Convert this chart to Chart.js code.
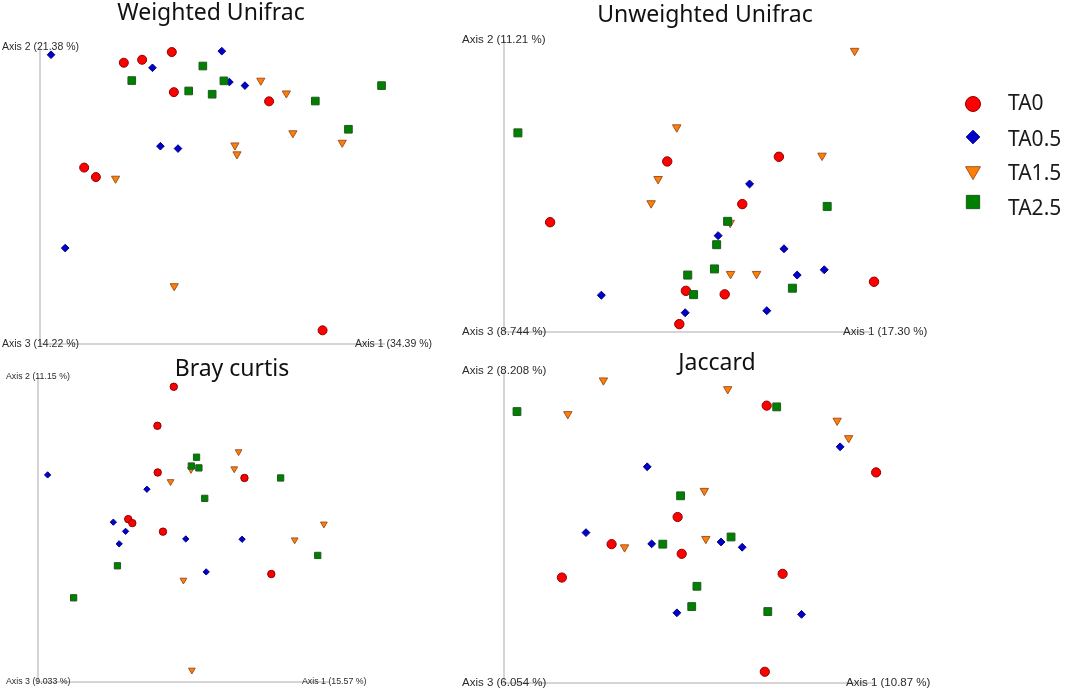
<!DOCTYPE html>
<html lang="en">
<head>
<meta charset="UTF-8">
<title>PCoA</title>
<script src="https://cdn.jsdelivr.net/npm/chart.js"></script>
<style>
    html, body { margin: 0; padding: 0; background: #fff; }
    body { width: 1065px; height: 690px; position: relative; overflow: hidden; }
    canvas { position: absolute; }
</style>
</head>
<body>
<canvas id="c1" width="455" height="360" style="left:0;top:0"></canvas>
<canvas id="c2" width="610" height="345" style="left:455px;top:0"></canvas>
<canvas id="c3" width="455" height="350" style="left:0;top:340px"></canvas>
<canvas id="c4" width="610" height="350" style="left:455px;top:340px"></canvas>
<script>
    // Groupes et textes
    const groups = ['TA0', 'TA0.5', 'TA1.5', 'TA2.5'];
    const panelTitles = ['Weighted Unifrac', 'Unweighted Unifrac', 'Bray curtis', 'Jaccard'];
    const axis1Labels = ['Axis 1 (34.39 %)', 'Axis 1 (17.30 %)', 'Axis 1 (15.57 %)', 'Axis 1 (10.87 %)'];
    const axis2Labels = ['Axis 2 (21.38 %)', 'Axis 2 (11.21 %)', 'Axis 2 (11.15 %)', 'Axis 2 (8.208 %)'];
    const axis3Labels = ['Axis 3 (14.22 %)', 'Axis 3 (8.744 %)', 'Axis 3 (9.033 %)', 'Axis 3 (6.054 %)'];

    // Scores (axe 1, axe 2), echelle 0-100 par panneau
    const weightedTA0 = [[38.2, 98.3], [24.3, 94.7], [29.6, 95.7], [38.8, 84.8], [66.4, 81.7], [12.8, 59.4], [16.2, 56.2], [81.9, 4.6]];
    const weightedTA05 = [[3.2, 97.4], [52.7, 98.6], [32.6, 93.0], [54.9, 88.2], [59.4, 87.0], [34.9, 66.6], [40.0, 65.8], [7.3, 32.3]];
    const weightedTA15 = [[64.0, 88.7], [71.4, 84.4], [73.3, 71.0], [56.5, 66.9], [57.1, 63.9], [87.6, 67.8], [21.9, 55.7], [38.9, 19.5]];
    const weightedTA25 = [[47.2, 93.6], [26.6, 88.7], [53.3, 88.6], [43.1, 85.2], [49.9, 84.1], [79.8, 81.8], [99.0, 87.0], [89.4, 72.3]];

    const unweightedTA0 = [[44.6, 58.4], [75.1, 60.0], [65.1, 43.8], [12.6, 37.6], [49.7, 14.1], [60.3, 12.9], [47.9, 2.7], [101.1, 17.2]];
    const unweightedTA05 = [[67.1, 50.7], [58.5, 33.0], [76.5, 28.5], [80.1, 19.5], [87.5, 21.3], [26.6, 12.6], [49.5, 6.6], [71.8, 7.3]];
    const unweightedTA15 = [[95.8, 96.3], [47.2, 70.1], [86.9, 60.4], [42.1, 52.4], [40.2, 44.1], [61.8, 37.4], [61.9, 19.9], [69.0, 19.9]];
    const unweightedTA25 = [[3.8, 68.2], [88.3, 43.0], [61.1, 37.9], [58.1, 29.9], [57.5, 21.6], [50.2, 19.5], [51.8, 12.8], [78.8, 15.0]];

    const brayTA0 = [[46.5, 96.8], [40.9, 84.0], [41.0, 68.7], [70.7, 66.9], [30.9, 53.4], [32.3, 52.1], [42.8, 49.3], [79.9, 35.4]];
    const brayTA05 = [[3.3, 67.9], [37.3, 63.2], [25.8, 52.4], [30.0, 49.4], [27.8, 45.3], [50.6, 46.9], [69.9, 46.8], [57.6, 36.1]];
    const brayTA15 = [[68.7, 75.5], [67.2, 69.9], [52.4, 69.7], [45.4, 65.7], [97.9, 51.8], [87.9, 46.6], [49.8, 33.4], [52.7, 3.9]];
    const brayTA25 = [[54.3, 73.7], [52.5, 70.8], [55.1, 70.2], [83.1, 66.9], [57.1, 60.2], [95.8, 41.5], [27.2, 38.1], [12.2, 27.6]];

    const jaccardTA0 = [[70.8, 88.9], [100.3, 67.5], [46.8, 53.2], [29.0, 44.5], [47.9, 41.4], [15.6, 33.8], [75.1, 35.0], [70.3, 3.6]];
    const jaccardTA05 = [[90.6, 75.7], [38.6, 69.3], [22.1, 48.2], [39.8, 44.6], [58.5, 45.2], [64.2, 43.5], [46.6, 22.5], [80.2, 22.0]];
    const jaccardTA15 = [[26.8, 97.0], [60.3, 94.2], [17.2, 86.2], [89.8, 84.1], [92.9, 78.5], [54.0, 61.6], [54.4, 46.2], [32.5, 43.5]];
    const jaccardTA25 = [[3.5, 87.0], [73.5, 88.5], [47.6, 60.0], [61.2, 46.8], [42.8, 44.5], [52.0, 31.0], [50.6, 24.5], [71.1, 22.9]];

    const panelData = [
        [weightedTA0, weightedTA05, weightedTA15, weightedTA25],
        [unweightedTA0, unweightedTA05, unweightedTA15, unweightedTA25],
        [brayTA0, brayTA05, brayTA15, brayTA25],
        [jaccardTA0, jaccardTA05, jaccardTA15, jaccardTA25]
    ];

    // Styles des marqueurs par groupe
    const markers = [
        { shape: 'circle', rotation: 0, k: 1.0, fill: '#ff0000', stroke: '#8b0000' },
        { shape: 'rectRot', rotation: 0, k: 0.85, fill: '#0000c8', stroke: '#00008b' },
        { shape: 'triangle', rotation: 180, k: 1.05, fill: '#ff8000', stroke: '#a0522d' },
        { shape: 'rect', rotation: 0, k: 1.2, fill: '#008000', stroke: '#1e5a1e' }
    ];

    // Mise en page de chaque panneau (pixels du canvas)
    const layouts = [
        { id: 'c1', pad: { left: 40, top: 47, right: 70, bottom: 16 }, r: 4.5, titleX: 211, titleY: 20, labelSize: 10.5, labelLeft: 38, axis1Off: 30 },
        { id: 'c2', pad: { left: 49, top: 40, right: 195, bottom: 13 }, r: 4.7, titleX: 250, titleY: 22, labelSize: 11.5, labelLeft: 42, axis1Off: 27, legend: true },
        { id: 'c3', pad: { left: 38, top: 37, right: 125, bottom: 8 }, r: 3.7, titleX: 232, titleY: 36, labelSize: 8.8, labelLeft: 32, axis1Off: 28 },
        { id: 'c4', pad: { left: 49, top: 31, right: 190, bottom: 7 }, r: 4.6, titleX: 262, titleY: 30, labelSize: 11.5, labelLeft: 42, axis1Off: 29 }
    ];

    // Dessine un marqueur (legende)
    let dessineMarqueur = (ctx, m, radius, x, y) => {
        ctx.fillStyle = m.fill;
        ctx.strokeStyle = m.stroke;
        ctx.lineWidth = 1;
        Chart.helpers.drawPoint(ctx, { pointStyle: m.shape, rotation: m.rotation, radius: radius, borderWidth: 1 }, x, y);
    };

    // Plugin : axes en L, libelles, titre et legende
    const pcoaFrame = {
        id: 'pcoaFrame',
        beforeDatasetsDraw(chart, args, opts) {
            const ctx = chart.ctx;
            const a = chart.chartArea;
            ctx.save();
            ctx.strokeStyle = '#c8c8c8';
            ctx.lineWidth = 1.5;
            ctx.beginPath();
            ctx.moveTo(a.left, a.top);
            ctx.lineTo(a.left, a.bottom);
            ctx.lineTo(a.right, a.bottom);
            ctx.stroke();

            ctx.fillStyle = '#2b2b2b';
            ctx.font = opts.labelSize + 'px "Liberation Sans", Arial, sans-serif';
            ctx.textAlign = 'left';
            ctx.textBaseline = 'middle';
            ctx.fillText(opts.axis2, a.left - opts.labelLeft, a.top);
            ctx.fillText(opts.axis3, a.left - opts.labelLeft, a.bottom);
            ctx.fillText(opts.axis1, a.right - opts.axis1Off, a.bottom);

            ctx.fillStyle = '#111';
            ctx.font = '23px "Noto Sans", sans-serif';
            ctx.textAlign = 'center';
            ctx.textBaseline = 'alphabetic';
            ctx.fillText(opts.title, opts.titleX, opts.titleY);

            if (opts.legend) {
                const symY = [104, 137, 171, 202];
                const txtY = [104, 140, 174, 209];
                const sizes = [7.5, 6.8, 8.6, 9.4];
                ctx.font = '21px "Noto Sans", sans-serif';
                ctx.textAlign = 'left';
                ctx.textBaseline = 'middle';
                groups.forEach((g, i) => {
                    dessineMarqueur(ctx, markers[i], sizes[i], 518, symY[i]);
                    ctx.fillStyle = '#1a1a1a';
                    ctx.fillText(g, 553, txtY[i]);
                });
            }
            ctx.restore();
        }
    };

    // Creation des 4 graphes
    layouts.forEach((lay, p) => {
        const datasets = groups.map((g, i) => ({
            label: g,
            data: panelData[p][i].map(pt => ({ x: pt[0], y: pt[1] })),
            pointStyle: markers[i].shape,
            pointRotation: markers[i].rotation,
            pointRadius: lay.r * markers[i].k,
            pointBackgroundColor: markers[i].fill,
            pointBorderColor: markers[i].stroke,
            pointBorderWidth: 1,
            order: 3 - i,
            clip: false
        }));

        new Chart(document.getElementById(lay.id), {
            type: 'scatter',
            data: { datasets: datasets },
            options: {
                responsive: false,
                animation: false,
                events: [],
                layout: { padding: lay.pad },
                scales: {
                    x: { type: 'linear', min: 0, max: 100, display: false },
                    y: { type: 'linear', min: 0, max: 100, display: false }
                },
                plugins: {
                    legend: { display: false },
                    tooltip: { enabled: false },
                    pcoaFrame: {
                        title: panelTitles[p],
                        axis1: axis1Labels[p],
                        axis2: axis2Labels[p],
                        axis3: axis3Labels[p],
                        titleX: lay.titleX,
                        titleY: lay.titleY,
                        labelSize: lay.labelSize,
                        labelLeft: lay.labelLeft,
                        axis1Off: lay.axis1Off,
                        legend: !!lay.legend
                    }
                }
            },
            plugins: [pcoaFrame]
        });
    });
</script>
</body>
</html>
